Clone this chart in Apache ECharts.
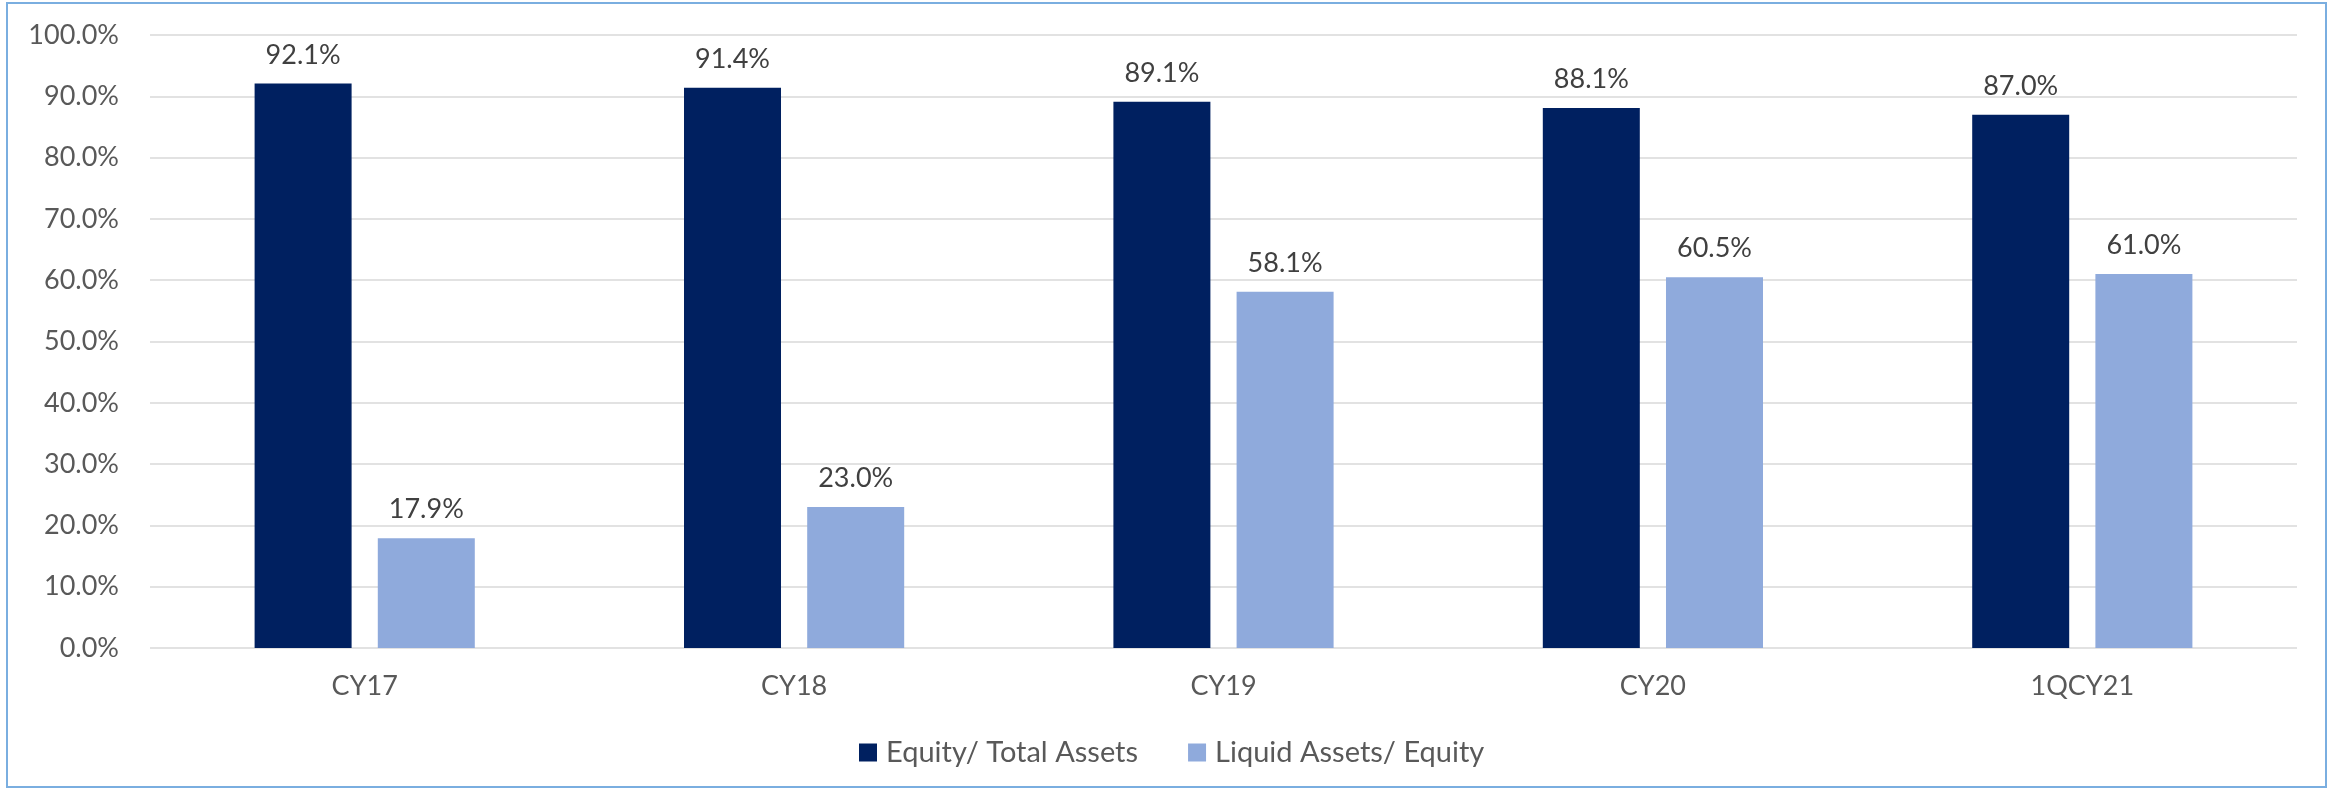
<!DOCTYPE html>
<html>
<head>
<meta charset="utf-8">
<script src="https://cdn.jsdelivr.net/npm/echarts@6/dist/echarts.min.js"></script>
<style>
  html, body { margin: 0; padding: 0; background: #fff; }
  .ratio-chart-frame {
    position: absolute;
    left: 6px; top: 2px;
    width: 2321px; height: 786px;
    border: 2px solid #7aaee0;
    box-sizing: border-box;
    pointer-events: none;
  }
  .ratio-chart { width: 2330px; height: 789px; }
</style>
</head>
<body>
<div id="chart" class="ratio-chart"></div>
<div class="ratio-chart-frame"></div>
<script>
const categories = ['CY17', 'CY18', 'CY19', 'CY20', '1QCY21']
const equityToTotalAssets = [92.1, 91.4, 89.1, 88.1, 87.0]
const liquidAssetsToEquity = [17.9, 23.0, 58.1, 60.5, 61.0]
const seriesNames = ['Equity/ Total Assets', 'Liquid Assets/ Equity']

const fontFamily = 'Lato, "Open Sans", sans-serif'

const chart = echarts.init(document.getElementById('chart'))

function barSeries(name, data, color) {
  return {
    name: name,
    type: 'bar',
    data: data,
    barWidth: 97,
    barGap: '27%',
    itemStyle: { color: color },
    label: {
      show: true,
      position: 'top',
      distance: 15,
      formatter: (p) => p.value.toFixed(1) + '%',
      color: '#404040',
      fontSize: 27,
      fontFamily: fontFamily,
    },
  }
}

chart.setOption({
  animation: false,
  textStyle: { fontFamily: fontFamily },
  grid: {
    left: 150,
    right: 33,
    top: 35,
    bottom: 141,
  },
  legend: {
    left: 854,
    top: 733,
    itemWidth: 18,
    itemHeight: 18,
    itemGap: 50,
    icon: 'rect',
    textStyle: {
      color: '#595959',
      fontSize: 29,
      fontFamily: fontFamily,
      padding: [0, 0, 0, 4],
    },
    data: seriesNames,
  },
  xAxis: {
    type: 'category',
    data: categories,
    axisLine: { show: false },
    axisTick: { show: false },
    axisLabel: { color: '#595959', fontSize: 27, margin: 25 },
  },
  yAxis: {
    type: 'value',
    min: 0,
    max: 100,
    interval: 10,
    axisLine: { show: false },
    axisTick: { show: false },
    axisLabel: {
      color: '#595959',
      fontSize: 27,
      margin: 31,
      formatter: (v) => v.toFixed(1) + '%',
    },
    splitLine: { lineStyle: { color: '#d9d9d9', width: 1.5 } },
  },
  series: [
    barSeries(seriesNames[0], equityToTotalAssets, '#002060'),
    barSeries(seriesNames[1], liquidAssetsToEquity, '#8faadc'),
  ],
})
</script>
</body>
</html>
